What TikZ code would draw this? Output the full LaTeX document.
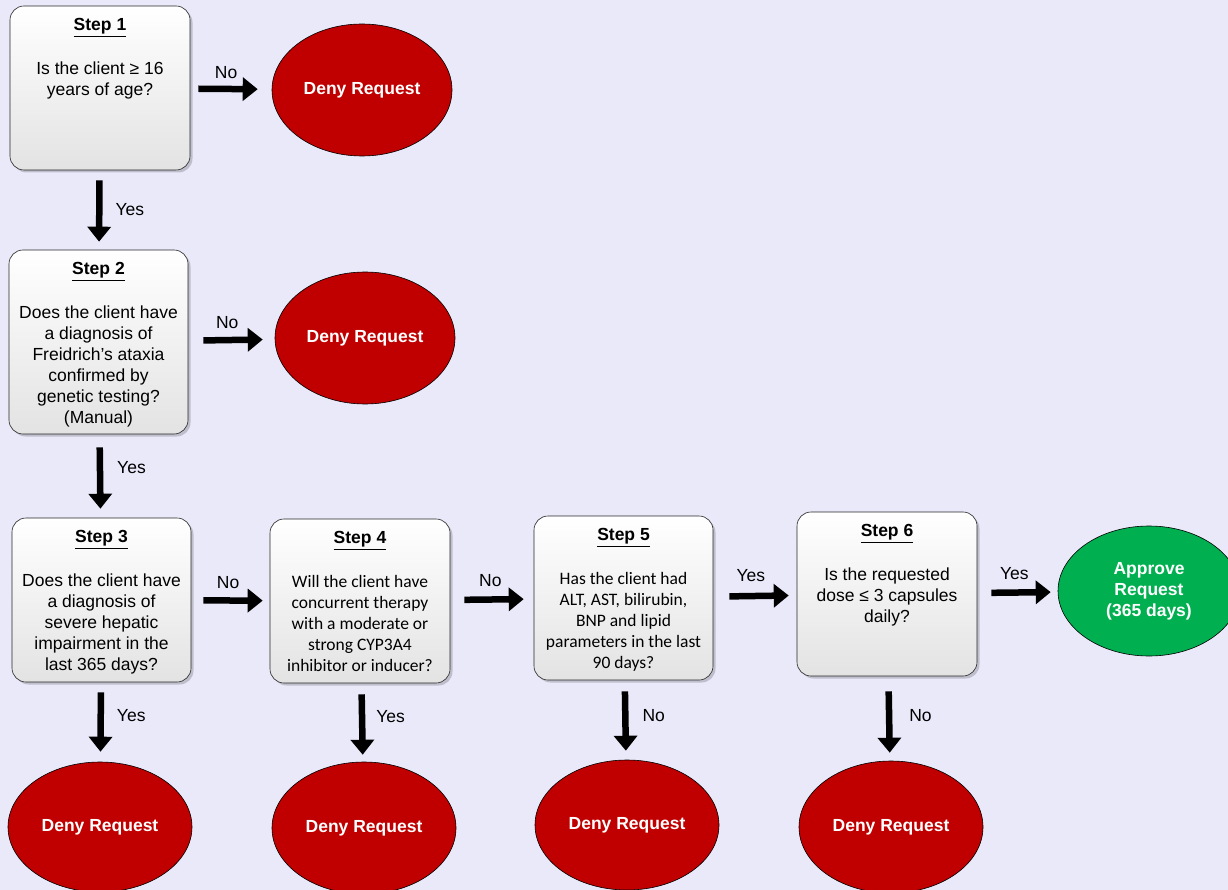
\documentclass[tikz,border=0pt]{standalone}
\usepackage{fontspec}
\setmainfont{Liberation Sans}
\newfontfamily\carlito{Carlito}
\usetikzlibrary{shapes.geometric,arrows.meta,shadows,calc}
\definecolor{bgc}{RGB}{233,233,250}
\definecolor{denyred}{RGB}{192,0,0}
\definecolor{okgreen}{RGB}{0,176,80}
\tikzset{
  stepbox/.style={draw=black!85, line width=0.6pt, rounded corners=14pt,
    top color=white, bottom color=black!11, minimum width=180pt,
    minimum height=164pt, inner sep=0pt,
    drop shadow={shadow xshift=2.5pt, shadow yshift=-2.5pt, opacity=0.18, fill=black}},
  steptitle/.style={font=\fontsize{17.5}{21}\selectfont\bfseries, inner sep=0pt, anchor=base},
  stepbody/.style={font=\fontsize{17.5}{21}\selectfont, align=center, inner sep=0pt, anchor=north},
  cbody/.style={stepbody, font=\fontsize{17.5}{21}\selectfont\carlito},
  denyell/.style={ellipse, draw=black, line width=0.6pt, fill=denyred, text=white,
    font=\fontsize{17.5}{21}\selectfont\bfseries, inner sep=0pt, align=center},
  okell/.style={denyell, fill=okgreen},
  arr/.style={line width=6.5pt, -{Triangle[length=15pt,width=23pt]}, black},
  lab/.style={font=\fontsize{17.5}{21}\selectfont, inner sep=0pt, text=black},
}
\begin{document}
\begin{tikzpicture}[x=1pt,y=-1pt]
\path[use as bounding box, fill=bgc] (0,0) rectangle (1228,890);
\clip (0,0) rectangle (1228,890);

% step boxes
\node[stepbox] (s1) at (100,88) {};
\node[stepbox, minimum width=179pt, minimum height=184pt] (s2) at (98.5,342) {};
\node[stepbox, minimum width=179pt] (s3) at (101.5,600) {};
\node[stepbox] (s4) at (360,601) {};
\node[stepbox, minimum width=179pt] (s5) at (623.5,598) {};
\node[stepbox] (s6) at (887,594) {};

% titles
\node[steptitle] (t1) at ($(s1.north)+(0,25)$) {\underline{Step 1}};
\node[steptitle] (t2) at ($(s2.north)+(0,25)$) {\underline{Step 2}};
\node[steptitle] (t3) at ($(s3.north)+(0,25)$) {\underline{Step 3}};
\node[steptitle] (t4) at ($(s4.north)+(0,25)$) {\underline{Step 4}};
\node[steptitle] (t5) at ($(s5.north)+(0,25)$) {\underline{Step 5}};
\node[steptitle] (t6) at ($(s6.north)+(0,25)$) {\underline{Step 6}};

% bodies
\node[stepbody] (b1) at ($(s1.north)+(0,54)$) {\strut Is the client ≥ 16\\ years of age?};
\node[stepbody] (b2) at ($(s2.north)+(0,54)$) {\strut Does the client have\\ a diagnosis of\\ Freidrich’s ataxia\\ confirmed by\\ genetic testing?\\ (Manual)};
\node[stepbody] (b3) at ($(s3.north)+(0,54)$) {\strut Does the client have\\ a diagnosis of\\ severe hepatic\\ impairment in the\\ last 365 days?};
\node[cbody] (b4) at ($(s4.north)+(0,54)$) {\strut Will the client have\\ concurrent therapy\\ with a moderate or\\ strong CYP3A4\\ inhibitor or inducer?};
\node[cbody] (b5) at ($(s5.north)+(0,54)$) {\strut Has the client had\\ ALT, AST, bilirubin,\\ BNP and lipid\\ parameters in the last\\ 90 days?};
\node[stepbody] (b6) at ($(s6.north)+(0,54)$) {\strut Is the requested\\ dose ≤ 3 capsules\\ daily?};

% outcomes
\node[denyell, minimum width=180pt, minimum height=132pt] (d1) at (362,90) {Deny Request};
\node[denyell, minimum width=180pt, minimum height=132pt] (d2) at (365,338) {Deny Request};
\node[denyell, minimum width=184pt, minimum height=130pt] (d3) at (100,827) {Deny Request};
\node[denyell, minimum width=184pt, minimum height=132pt] (d4) at (364,828) {Deny Request};
\node[denyell, minimum width=184pt, minimum height=130pt] (d5) at (627,825) {Deny Request};
\node[denyell, minimum width=184pt, minimum height=132pt] (d6) at (891,827) {Deny Request};
\node[okell, minimum width=182pt, minimum height=130pt] (ap) at (1149,591) {Approve\\ Request\\ (365 days)};

% connectors
\draw[arr, shorten <=8pt, shorten >=14pt] (s1) -- node[lab, pos=.44, above=7pt] (l1) {No} (d1);
\draw[arr, shorten <=10pt, shorten >=8pt] (s1) -- node[lab, pos=.5, right=13pt] (l2) {Yes} (s2);
\draw[arr, shorten <=15pt, shorten >=12pt] (s2) -- node[lab, pos=.45, above=8pt] (l3) {No} (d2);
\draw[arr, shorten <=13pt, shorten >=9pt] (s2) -- node[lab, pos=.4, right=14pt] (l4) {Yes} (s3);
\draw[arr, shorten <=12pt, shorten >=7pt] (s3) -- node[lab, pos=.47, above=9pt] (l5) {No} (s4);
\draw[arr, shorten <=14pt, shorten >=10pt] (s4) -- node[lab, pos=.48, above=10pt] (l6) {No} (s5);
\draw[arr, shorten <=16pt, shorten >=8pt] (s5) -- node[lab, pos=.45, above=11pt] (l7) {Yes} (s6);
\draw[arr, shorten <=14pt, shorten >=7pt] (s6) -- node[lab, pos=.46, above=10pt] (l8) {Yes} (ap);
\draw[arr, shorten <=10pt, shorten >=10pt] (s3) -- node[lab, pos=.42, right=13pt] (l9) {Yes} (d3);
\draw[arr, shorten <=11pt, shorten >=7pt] (s4) -- node[lab, pos=.43, right=11pt] (l10) {Yes} (d4);
\draw[arr, shorten <=11pt, shorten >=9pt] (s5) -- node[lab, pos=.45, right=14pt] (l11) {No} (d5);
\draw[arr, shorten <=15pt, shorten >=8pt] (s6) -- node[lab, pos=.47, right=17pt] (l12) {No} (d6);
\end{tikzpicture}
\end{document}
